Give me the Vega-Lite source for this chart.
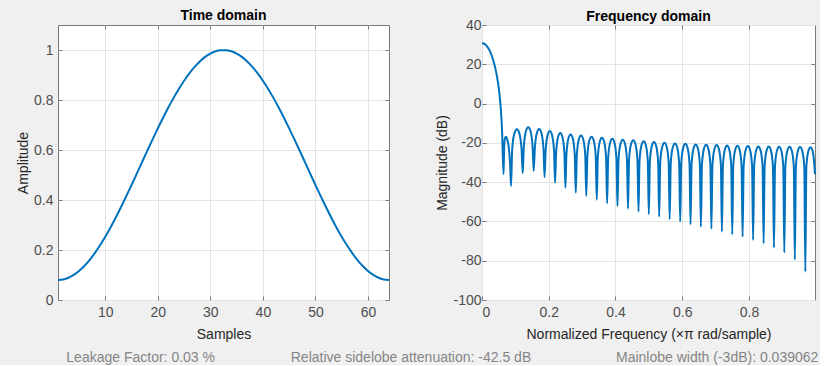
{
  "$schema": "https://vega.github.io/schema/vega-lite/v6.json",
  "background": "#f0f0f0",
  "padding": {"left": 16, "top": 8, "right": 0, "bottom": 0},
  "config": {
    "font": "Liberation Sans",
    "view": {"stroke": "#7a7a7a", "strokeWidth": 1, "fill": "white"},
    "axis": {
      "labelFont": "Liberation Sans", "labelFontSize": 14, "labelColor": "#4d4d4d",
      "titleFont": "Liberation Sans", "titleFontSize": 14, "titleFontWeight": "normal", "titleColor": "#262626",
      "gridColor": "#e3e3e3", "gridWidth": 1, "domain": false,
      "tickColor": "#7a7a7a", "tickSize": -4, "labelPadding": 9, "titlePadding": 3
    },
    "axisX": {"titlePadding": 8},
    "title": {"font": "Liberation Sans", "fontSize": 14, "fontWeight": "bold", "color": "#000000", "offset": 2, "frame": "group"},
    "locale": {"number": {"decimal": ".", "thousands": ",", "grouping": [3], "currency": ["$", ""], "minus": "-"}}
  },
  "datasets": {
    "win": [
      {"n":1,"w":0.08},{"n":2,"w":0.0823},{"n":3,"w":0.0891},{"n":4,"w":0.1004},{"n":5,"w":0.1161},{"n":6,"w":0.136},{"n":7,"w":0.1599},{"n":8,"w":0.1876},
      {"n":9,"w":0.2188},{"n":10,"w":0.2532},{"n":11,"w":0.2904},{"n":12,"w":0.3301},{"n":13,"w":0.3719},{"n":14,"w":0.4154},{"n":15,"w":0.4601},{"n":16,"w":0.5056},
      {"n":17,"w":0.5515},{"n":18,"w":0.5972},{"n":19,"w":0.6424},{"n":20,"w":0.6865},{"n":21,"w":0.7292},{"n":22,"w":0.77},{"n":23,"w":0.8085},{"n":24,"w":0.8444},
      {"n":25,"w":0.8772},{"n":26,"w":0.9067},{"n":27,"w":0.9325},{"n":28,"w":0.9544},{"n":29,"w":0.9723},{"n":30,"w":0.9858},{"n":31,"w":0.9949},{"n":32,"w":0.9994},
      {"n":33,"w":0.9994},{"n":34,"w":0.9949},{"n":35,"w":0.9858},{"n":36,"w":0.9723},{"n":37,"w":0.9544},{"n":38,"w":0.9325},{"n":39,"w":0.9067},{"n":40,"w":0.8772},
      {"n":41,"w":0.8444},{"n":42,"w":0.8085},{"n":43,"w":0.77},{"n":44,"w":0.7292},{"n":45,"w":0.6865},{"n":46,"w":0.6424},{"n":47,"w":0.5972},{"n":48,"w":0.5515},
      {"n":49,"w":0.5056},{"n":50,"w":0.4601},{"n":51,"w":0.4154},{"n":52,"w":0.3719},{"n":53,"w":0.3301},{"n":54,"w":0.2904},{"n":55,"w":0.2532},{"n":56,"w":0.2188},
      {"n":57,"w":0.1876},{"n":58,"w":0.1599},{"n":59,"w":0.136},{"n":60,"w":0.1161},{"n":61,"w":0.1004},{"n":62,"w":0.0891},{"n":63,"w":0.0823},{"n":64,"w":0.08}
    ],
    "resp": [
      {"f":0,"m":30.77},{"f":0.005,"m":30.59},{"f":0.01,"m":30.06},{"f":0.015,"m":29.16},{"f":0.02,"m":27.87},{"f":0.025,"m":26.16},{"f":0.03,"m":23.98},
      {"f":0.035,"m":21.27},{"f":0.04,"m":17.91},{"f":0.045,"m":13.71},{"f":0.05,"m":8.3},{"f":0.055,"m":0.2},{"f":0.06,"m":-13},{"f":0.0645,"m":-36},
      {"f":0.0665,"m":-22},{"f":0.069,"m":-17.5},{"f":0.072,"m":-16.9},{"f":0.076,"m":-18.5},{"f":0.08,"m":-22},{"f":0.084,"m":-30},{"f":0.087,"m":-42},
      {"f":0.0905,"m":-23.1},{"f":0.0975,"m":-14.9},{"f":0.1045,"m":-13.1},{"f":0.1115,"m":-14.9},{"f":0.1185,"m":-23.1},{"f":0.122,"m":-35.5},
      {"f":0.1253,"m":-22},{"f":0.1319,"m":-13.8},{"f":0.1385,"m":-12},{"f":0.1451,"m":-13.8},{"f":0.1517,"m":-22},{"f":0.155,"m":-34.3},
      {"f":0.1583,"m":-23},{"f":0.1648,"m":-14.8},{"f":0.1713,"m":-13},{"f":0.1778,"m":-14.8},{"f":0.1843,"m":-23},{"f":0.1875,"m":-37.5},
      {"f":0.1907,"m":-24},{"f":0.197,"m":-15.8},{"f":0.2033,"m":-14},{"f":0.2096,"m":-15.8},{"f":0.2159,"m":-24},{"f":0.219,"m":-40.3},
      {"f":0.2221,"m":-25},{"f":0.2283,"m":-16.8},{"f":0.2345,"m":-15},{"f":0.2407,"m":-16.8},{"f":0.2469,"m":-25},{"f":0.25,"m":-42.8},
      {"f":0.2531,"m":-25.7},{"f":0.2593,"m":-17.5},{"f":0.2655,"m":-15.7},{"f":0.2717,"m":-17.5},{"f":0.2779,"m":-25.7},{"f":0.281,"m":-45.4},
      {"f":0.2842,"m":-26.2},{"f":0.2905,"m":-18},{"f":0.2968,"m":-16.2},{"f":0.3031,"m":-18},{"f":0.3094,"m":-26.2},{"f":0.3125,"m":-47},
      {"f":0.3157,"m":-26.9},{"f":0.3219,"m":-18.7},{"f":0.3283,"m":-16.9},{"f":0.3346,"m":-18.7},{"f":0.3409,"m":-26.9},{"f":0.344,"m":-49},
      {"f":0.3471,"m":-27.4},{"f":0.3533,"m":-19.2},{"f":0.3595,"m":-17.4},{"f":0.3657,"m":-19.2},{"f":0.3719,"m":-27.4},{"f":0.375,"m":-50.8},
      {"f":0.3781,"m":-27.9},{"f":0.3843,"m":-19.7},{"f":0.3905,"m":-17.9},{"f":0.3967,"m":-19.7},{"f":0.4029,"m":-27.9},{"f":0.406,"m":-52.2},
      {"f":0.4092,"m":-28.4},{"f":0.4155,"m":-20.2},{"f":0.4218,"m":-18.4},{"f":0.4281,"m":-20.2},{"f":0.4344,"m":-28.4},{"f":0.4375,"m":-53.5},
      {"f":0.4407,"m":-28.7},{"f":0.447,"m":-20.5},{"f":0.4533,"m":-18.7},{"f":0.4596,"m":-20.5},{"f":0.4659,"m":-28.7},{"f":0.469,"m":-55},
      {"f":0.4721,"m":-29.2},{"f":0.4783,"m":-21},{"f":0.4845,"m":-19.2},{"f":0.4907,"m":-21},{"f":0.4969,"m":-29.2},{"f":0.5,"m":-56.4},
      {"f":0.5031,"m":-29.6},{"f":0.5093,"m":-21.4},{"f":0.5155,"m":-19.6},{"f":0.5217,"m":-21.4},{"f":0.5279,"m":-29.6},{"f":0.531,"m":-57.6},
      {"f":0.5342,"m":-29.9},{"f":0.5405,"m":-21.7},{"f":0.5468,"m":-19.9},{"f":0.5531,"m":-21.7},{"f":0.5594,"m":-29.9},{"f":0.5625,"m":-58.9},
      {"f":0.5657,"m":-30.3},{"f":0.572,"m":-22.1},{"f":0.5783,"m":-20.3},{"f":0.5846,"m":-22.1},{"f":0.5909,"m":-30.3},{"f":0.594,"m":-60.1},
      {"f":0.5971,"m":-30.5},{"f":0.6033,"m":-22.3},{"f":0.6095,"m":-20.5},{"f":0.6157,"m":-22.3},{"f":0.6219,"m":-30.5},{"f":0.625,"m":-61.5},
      {"f":0.6281,"m":-30.8},{"f":0.6343,"m":-22.6},{"f":0.6405,"m":-20.8},{"f":0.6467,"m":-22.6},{"f":0.6529,"m":-30.8},{"f":0.656,"m":-62.7},
      {"f":0.6592,"m":-31},{"f":0.6655,"m":-22.8},{"f":0.6718,"m":-21},{"f":0.6781,"m":-22.8},{"f":0.6844,"m":-31},{"f":0.6875,"m":-63.7},
      {"f":0.6907,"m":-31.1},{"f":0.697,"m":-22.9},{"f":0.7033,"m":-21.1},{"f":0.7096,"m":-22.9},{"f":0.7159,"m":-31.1},{"f":0.719,"m":-65.2},
      {"f":0.7221,"m":-31.3},{"f":0.7283,"m":-23.1},{"f":0.7345,"m":-21.3},{"f":0.7407,"m":-23.1},{"f":0.7469,"m":-31.3},{"f":0.75,"m":-66.6},
      {"f":0.7531,"m":-31.5},{"f":0.7593,"m":-23.3},{"f":0.7655,"m":-21.5},{"f":0.7717,"m":-23.3},{"f":0.7779,"m":-31.5},{"f":0.781,"m":-67.8},
      {"f":0.7842,"m":-31.6},{"f":0.7905,"m":-23.4},{"f":0.7968,"m":-21.6},{"f":0.8031,"m":-23.4},{"f":0.8094,"m":-31.6},{"f":0.8125,"m":-69.5},
      {"f":0.8157,"m":-31.8},{"f":0.8219,"m":-23.6},{"f":0.8283,"m":-21.8},{"f":0.8346,"m":-23.6},{"f":0.8409,"m":-31.8},{"f":0.844,"m":-71.2},
      {"f":0.8471,"m":-31.9},{"f":0.8533,"m":-23.7},{"f":0.8595,"m":-21.9},{"f":0.8657,"m":-23.7},{"f":0.8719,"m":-31.9},{"f":0.875,"m":-73.4},
      {"f":0.8781,"m":-32},{"f":0.8843,"m":-23.8},{"f":0.8905,"m":-22},{"f":0.8967,"m":-23.8},{"f":0.9029,"m":-32},{"f":0.906,"m":-75.9},
      {"f":0.9092,"m":-32},{"f":0.9155,"m":-23.8},{"f":0.9218,"m":-22},{"f":0.9281,"m":-23.8},{"f":0.9344,"m":-32},{"f":0.9375,"m":-79.5},
      {"f":0.9407,"m":-32.1},{"f":0.947,"m":-23.9},{"f":0.9533,"m":-22.1},{"f":0.9596,"m":-23.9},{"f":0.9659,"m":-32.1},{"f":0.969,"m":-85.6},
      {"f":0.9721,"m":-32.2},{"f":0.9783,"m":-24},{"f":0.9845,"m":-22.2},{"f":0.9907,"m":-24},{"f":0.995,"m":-29},{"f":0.998,"m":-36}
    ],
    "notes": [
      {"item": "leak", "label": "Leakage Factor: 0.03 %"},
      {"item": "rsa", "label": "Relative sidelobe attenuation: -42.5 dB"},
      {"item": "mlw", "label": "Mainlobe width (-3dB): 0.039062"}
    ]
  },
  "vconcat": [
    {
      "hconcat": [
        {
          "width": 331, "height": 275,
          "title": "Time domain",
          "data": {"name": "win"},
          "layer": [
            {
              "mark": {"type": "line", "color": "#0072bd", "strokeWidth": 2, "interpolate": "monotone"},
              "encoding": {
                "x": {"field": "n", "type": "quantitative", "scale": {"domain": [1, 64], "nice": false, "zero": false},
                      "axis": {"title": "Samples", "values": [10, 20, 30, 40, 50, 60]}},
                "y": {"field": "w", "type": "quantitative", "scale": {"domain": [0, 1.1], "nice": false},
                      "axis": {"title": "Amplitude", "values": [0, 0.2, 0.4, 0.6, 0.8, 1], "format": "~g"}}
              }
            },
            {
              "mark": {"type": "line", "opacity": 0},
              "encoding": {
                "x": {"field": "n", "type": "quantitative",
                      "axis": {"orient": "top", "title": null, "labels": false, "grid": false, "values": [10, 20, 30, 40, 50, 60]}},
                "y": {"field": "w", "type": "quantitative",
                      "axis": {"orient": "right", "title": null, "labels": false, "grid": false, "values": [0, 0.2, 0.4, 0.6, 0.8, 1]}}
              }
            }
          ],
          "resolve": {"axis": {"x": "independent", "y": "independent"}}
        },
        {
          "width": 333, "height": 275,
          "title": {"text": "Frequency domain", "dy": 8},
          "data": {"name": "resp"},
          "layer": [
            {
              "mark": {"type": "line", "color": "#0072bd", "strokeWidth": 2, "interpolate": "monotone"},
              "encoding": {
                "x": {"field": "f", "type": "quantitative", "scale": {"domain": [0, 0.998], "nice": false, "zero": false},
                      "axis": {"title": "Normalized Frequency  (×π rad/sample)", "values": [0, 0.2, 0.4, 0.6, 0.8], "format": "~g"}},
                "y": {"field": "m", "type": "quantitative", "scale": {"domain": [-100, 40], "nice": false},
                      "axis": {"title": "Magnitude (dB)", "values": [-100, -80, -60, -40, -20, 0, 20, 40], "labelPadding": 5}}
              }
            },
            {
              "mark": {"type": "line", "opacity": 0},
              "encoding": {
                "x": {"field": "f", "type": "quantitative",
                      "axis": {"orient": "top", "title": null, "labels": false, "grid": false, "values": [0.2, 0.4, 0.6, 0.8]}},
                "y": {"field": "m", "type": "quantitative",
                      "axis": {"orient": "right", "title": null, "labels": false, "grid": false, "values": [-80, -60, -40, -20, 0, 20]}}
              }
            }
          ],
          "resolve": {"axis": {"x": "independent", "y": "independent"}}
        }
      ],
      "spacing": 41
    },
    {
      "width": 760, "height": 14,
      "view": {"stroke": null, "fill": null},
      "data": {"name": "notes"},
      "encoding": {
        "x": {"field": "item", "type": "nominal", "sort": null, "axis": null,
              "scale": {"domain": ["leak", "rsa", "mlw"], "paddingInner": 0, "paddingOuter": 0}},
        "text": {"field": "label"}
      },
      "layer": [
        {"transform": [{"filter": "datum.item === 'leak'"}],
         "mark": {"type": "text", "font": "Liberation Sans", "fontSize": 14, "color": "#858585", "align": "center", "baseline": "middle", "dx": -44}},
        {"transform": [{"filter": "datum.item === 'rsa'"}],
         "mark": {"type": "text", "font": "Liberation Sans", "fontSize": 14, "color": "#858585", "align": "center", "baseline": "middle", "dx": -27}},
        {"transform": [{"filter": "datum.item === 'mlw'"}],
         "mark": {"type": "text", "font": "Liberation Sans", "fontSize": 14, "color": "#858585", "align": "right", "baseline": "middle", "dx": 127}}
      ]
    }
  ],
  "spacing": 9
}
